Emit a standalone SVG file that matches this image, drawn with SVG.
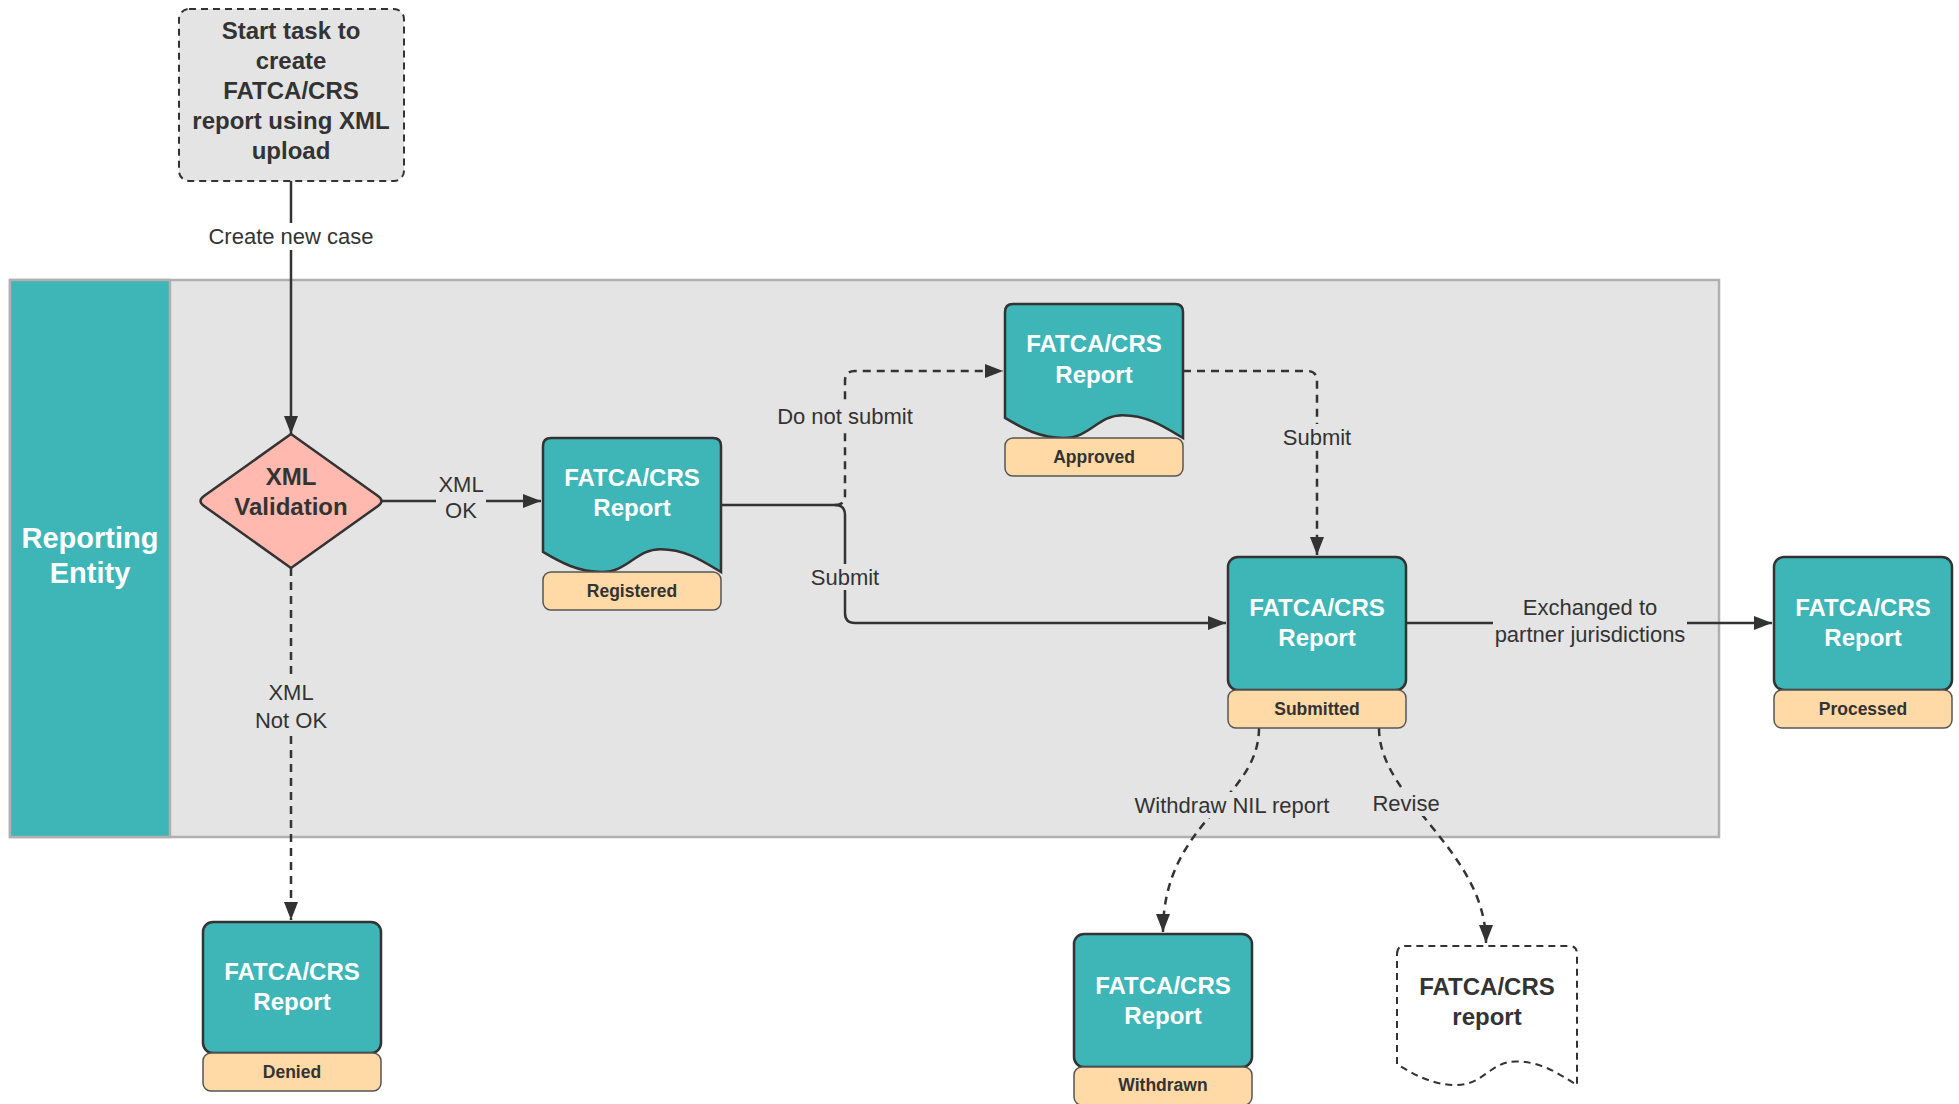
<svg xmlns="http://www.w3.org/2000/svg" xmlns:xlink="http://www.w3.org/1999/xlink" width="1959" height="1104" viewBox="0 0 1959 1104">
<style>
  .lbl { font-family: "Liberation Sans", Arial, sans-serif; font-size: 22px; fill: #333; text-anchor: middle; dominant-baseline: central; }
  .ttl { font-family: "Liberation Sans", Arial, sans-serif; font-size: 24px; font-weight: bold; text-anchor: middle; dominant-baseline: central; }
  .wt { fill: #ffffff; }
  .dk { fill: #333333; }
  .st { font-family: "Liberation Sans", Arial, sans-serif; font-size: 17.5px; font-weight: bold; fill: #333; text-anchor: middle; dominant-baseline: central; }
  .teal { fill: #3eb6b8; stroke: #333; stroke-width: 2.5; }
  .status { fill: #ffd9a6; stroke: #555; stroke-width: 1.5; }
  .con { fill: none; stroke: #333; stroke-width: 2.5; }
  .dash { stroke-dasharray: 8 6; }
  .bgg { fill: #e4e4e4; }
  .bgw { fill: #ffffff; }
</style>
<defs>
  <marker id="arr" viewBox="0 0 18 14" refX="18" refY="7" markerWidth="18" markerHeight="14" markerUnits="userSpaceOnUse" orient="auto">
    <path d="M0,0 L18,7 L0,14 Z" fill="#333"/>
  </marker>
  <path id="doc" d="M 0 8 Q 0 0 8 0 H 170 Q 178 0 178 8 V 134 C 160.2 123.3 142.4 111.2 117.5 111.2 C 92.6 111.2 85.4 134 58.7 134 C 35.6 134 17.8 124.6 0 113.9 Z"/>
</defs>

<rect width="1959" height="1104" fill="#ffffff"/>

<g id="lane">
  <rect x="10" y="280" width="1709" height="557" fill="#e4e4e4" stroke="#b0b0b0" stroke-width="2.5"/>
  <rect x="10" y="280" width="160" height="557" fill="#3eb6b8" stroke="#b0b0b0" stroke-width="2.5"/>
  <text class="ttl wt" x="90" y="538" style="font-size:29px">Reporting</text>
  <text class="ttl wt" x="90" y="573" style="font-size:29px">Entity</text>
</g>

<g id="connectors">
  <path class="con" d="M 291 181 V 434" marker-end="url(#arr)"/>
  <path class="con" d="M 382 501 H 541" marker-end="url(#arr)"/>
  <path class="con dash" d="M 291 568 V 920" marker-end="url(#arr)"/>
  <path class="con" d="M 721 505 H 835 Q 845 505 845 515 V 613 Q 845 623 855 623 H 1226" marker-end="url(#arr)"/>
  <path class="con dash" d="M 835 505 Q 845 505 845 495 V 381 Q 845 371 855 371 H 1003" marker-end="url(#arr)"/>
  <path class="con dash" d="M 1183 371 H 1307 Q 1317 371 1317 381 V 555" marker-end="url(#arr)"/>
  <path class="con" d="M 1407 623 H 1772" marker-end="url(#arr)"/>
  <path class="con dash" d="M 1259 728 C 1259 800 1163 820 1163 932" marker-end="url(#arr)"/>
  <path class="con dash" d="M 1379 728 C 1379 800 1486 850 1486 943" marker-end="url(#arr)"/>

  <rect class="bgw" x="205" y="223" width="172" height="27"/>
  <text class="lbl" x="291" y="236">Create new case</text>
  <rect class="bgg" x="436" y="471" width="50" height="52"/>
  <text class="lbl" x="461" y="484">XML</text>
  <text class="lbl" x="461" y="510">OK</text>
  <rect class="bgg" x="252" y="679" width="78" height="54"/>
  <text class="lbl" x="291" y="692">XML</text>
  <text class="lbl" x="291" y="720">Not OK</text>
  <rect class="bgg" x="776" y="404" width="138" height="25"/>
  <text class="lbl" x="845" y="416">Do not submit</text>
  <rect class="bgg" x="810" y="564" width="70" height="26"/>
  <text class="lbl" x="845" y="577">Submit</text>
  <rect class="bgg" x="1282" y="424" width="70" height="26"/>
  <text class="lbl" x="1317" y="437">Submit</text>
  <rect class="bgg" x="1493" y="593" width="194" height="56"/>
  <text class="lbl" x="1590" y="607">Exchanged to</text>
  <text class="lbl" x="1590" y="634">partner jurisdictions</text>
  <rect class="bgg" x="1133" y="792" width="198" height="26"/>
  <text class="lbl" x="1232" y="805">Withdraw NIL report</text>
  <rect class="bgg" x="1371" y="790" width="70" height="26"/>
  <text class="lbl" x="1406" y="803">Revise</text>
</g>

<g id="start">
  <rect x="179" y="9" width="225" height="172" rx="10" fill="#e4e4e4" stroke="#333" stroke-width="2" stroke-dasharray="7 5"/>
  <text class="ttl dk" x="291" y="30">Start task to</text>
  <text class="ttl dk" x="291" y="60">create</text>
  <text class="ttl dk" x="291" y="90">FATCA/CRS</text>
  <text class="ttl dk" x="291" y="120">report using XML</text>
  <text class="ttl dk" x="291" y="150">upload</text>
</g>

<g id="xml-validation">
  <path d="M 291 434 L 378 496 Q 385 501 378 506 L 291 568 L 204 506 Q 197 501 204 496 Z" fill="#ffb9af" stroke="#333" stroke-width="2.5" stroke-linejoin="round"/>
  <text class="ttl dk" x="291" y="476">XML</text>
  <text class="ttl dk" x="291" y="506">Validation</text>
</g>

<g id="registered">
  <use href="#doc" xlink:href="#doc" x="543" y="438" class="teal"/>
  <rect class="status" x="543" y="572" width="178" height="38" rx="8"/>
  <text class="ttl wt" x="632" y="477">FATCA/CRS</text>
  <text class="ttl wt" x="632" y="507">Report</text>
  <text class="st" x="632" y="591">Registered</text>
</g>

<g id="approved">
  <use href="#doc" xlink:href="#doc" x="1005" y="304" class="teal"/>
  <rect class="status" x="1005" y="438" width="178" height="38" rx="8"/>
  <text class="ttl wt" x="1094" y="343">FATCA/CRS</text>
  <text class="ttl wt" x="1094" y="374">Report</text>
  <text class="st" x="1094" y="457">Approved</text>
</g>

<g id="submitted">
  <rect class="teal" x="1228" y="557" width="178" height="133" rx="10"/>
  <rect class="status" x="1228" y="690" width="178" height="38" rx="8"/>
  <text class="ttl wt" x="1317" y="607">FATCA/CRS</text>
  <text class="ttl wt" x="1317" y="637">Report</text>
  <text class="st" x="1317" y="709">Submitted</text>
</g>

<g id="processed">
  <rect class="teal" x="1774" y="557" width="178" height="133" rx="10"/>
  <rect class="status" x="1774" y="690" width="178" height="38" rx="8"/>
  <text class="ttl wt" x="1863" y="607">FATCA/CRS</text>
  <text class="ttl wt" x="1863" y="637">Report</text>
  <text class="st" x="1863" y="709">Processed</text>
</g>

<g id="denied">
  <rect class="teal" x="203" y="922" width="178" height="131" rx="10"/>
  <rect class="status" x="203" y="1053" width="178" height="38" rx="8"/>
  <text class="ttl wt" x="292" y="971">FATCA/CRS</text>
  <text class="ttl wt" x="292" y="1001">Report</text>
  <text class="st" x="292" y="1072">Denied</text>
</g>

<g id="withdrawn">
  <rect class="teal" x="1074" y="934" width="178" height="133" rx="10"/>
  <rect class="status" x="1074" y="1067" width="178" height="38" rx="8"/>
  <text class="ttl wt" x="1163" y="985">FATCA/CRS</text>
  <text class="ttl wt" x="1163" y="1015">Report</text>
  <text class="st" x="1163" y="1085">Withdrawn</text>
</g>

<g id="revised-report">
  <path d="M 1397 954 Q 1397 946 1405 946 H 1569 Q 1577 946 1577 954 V 1085 C 1559 1073.9 1541 1061.4 1515.8 1061.4 C 1490.6 1061.4 1483.4 1085 1456.4 1085 C 1433 1085 1415 1075.3 1397 1064.2 Z" fill="#ffffff" stroke="#333" stroke-width="2" stroke-dasharray="7 5"/>
  <text class="ttl dk" x="1487" y="986">FATCA/CRS</text>
  <text class="ttl dk" x="1487" y="1016">report</text>
</g>
</svg>
